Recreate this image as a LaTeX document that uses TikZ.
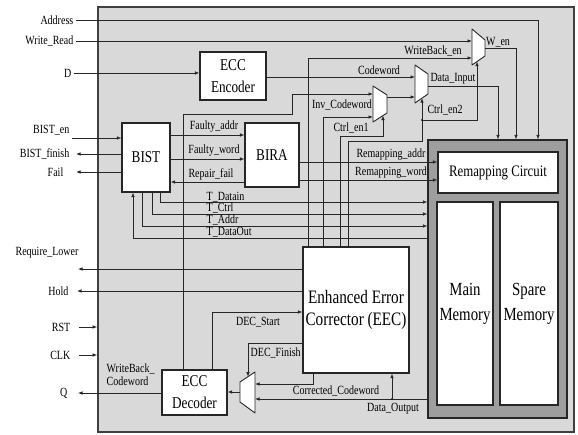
\documentclass[tikz,border=0pt]{standalone}
\usepackage{fontspec}
\setmainfont{Liberation Serif}[FakeStretch=0.8]
\usetikzlibrary{arrows.meta, calc}

\tikzset{
  blk/.style={draw=black!85, line width=1.1pt, fill=white, align=center, inner sep=1pt},
  lbl/.style={inner sep=0.5pt, font=\fontsize{12.5}{13}\selectfont},
  wire/.style={line width=0.7pt, draw=black!85},
  muxs/.style={draw=black!85, line width=0.9pt, fill=white, line join=round},
}

\begin{document}
\begin{tikzpicture}[x=1pt, y=-1pt, >={Latex[length=4.5pt, width=3.5pt]}]
    \useasboundingbox (0,0) rectangle (578,434);

    % === 1. CHIP FRAME ===
    \node[draw=black!75, line width=1.8pt, fill=black!15, inner sep=0pt,
          minimum width=476pt, minimum height=425pt] (frame) at (336,219.5) {};

    % === 2. MEMORY BLOCK ===
    \node[draw=black!85, line width=1.1pt, fill=black!38, inner sep=0pt,
          minimum width=139pt, minimum height=278pt] (mem) at (497.5,279) {};
    \node[blk, minimum width=120pt, minimum height=41pt, font=\fontsize{16}{18}\selectfont]
        (remap) at (498,172.5) {Remapping Circuit};
    \node[blk, minimum width=56pt, minimum height=203pt, font=\fontsize{18.5}{25}\selectfont]
        (main) at (465,303.5) {Main\\Memory};
    \node[blk, minimum width=58pt, minimum height=203pt, font=\fontsize{18.5}{25}\selectfont]
        (spare) at (529,303.5) {Spare\\Memory};

    % === 3. BLOCKS ===
    \node[blk, minimum width=66pt, minimum height=48pt, font=\fontsize{16.5}{22}\selectfont]
        (enc) at (233,76) {ECC\\Encoder};
    \node[blk, minimum width=48pt, minimum height=69pt, font=\fontsize{16.5}{20}\selectfont]
        (bist) at (146,157.5) {BIST};
    \node[blk, minimum width=54pt, minimum height=64pt, font=\fontsize{16.5}{20}\selectfont]
        (bira) at (272,155) {BIRA};
    \node[blk, minimum width=106pt, minimum height=126pt, font=\fontsize{19}{22}\selectfont]
        (eec) at (356,310) {Enhanced Error\\Corrector (EEC)};
    \node[blk, minimum width=65pt, minimum height=45pt, font=\fontsize{16.5}{22}\selectfont]
        (dec) at (194.5,392.5) {ECC\\Decoder};

    % === 4. MUXES (pins as coordinates) ===
    \draw[muxs] (472,29) -- (485,40) -- (485,56) -- (472,65) -- cycle;
    \coordinate (wbA) at (472,41);
    \coordinate (wbB) at (472,58);
    \coordinate (wbY) at (485,48.5);
    \coordinate (wbS) at (477,61.5);

    \draw[muxs] (415,65) -- (428,74) -- (428,94) -- (415,103) -- cycle;
    \coordinate (dmA) at (415,77);
    \coordinate (dmB) at (415,97);
    \coordinate (dmY) at (428,86);
    \coordinate (dmS) at (422,98.2);

    \draw[muxs] (373,86) -- (387,95) -- (387,113) -- (373,122) -- cycle;
    \coordinate (m1A) at (373,94);
    \coordinate (m1B) at (373,117);
    \coordinate (m1Y) at (387,97);
    \coordinate (m1S) at (383,115.6);

    \draw[muxs] (255,372) -- (240,382) -- (240,402) -- (255,413) -- cycle;
    \coordinate (dxA) at (255,384);
    \coordinate (dxB) at (255,399);
    \coordinate (dxY) at (240,392);
    \coordinate (dxS) at (248,376.7);

    % === 5. TOP INPUTS ===
    \node[lbl, anchor=east] (addr) at (74,20) {Address};
    \node[lbl, anchor=east] (wr) at (74,41) {Write\_Read};
    \node[lbl, anchor=east] (din) at (72,73) {D};
    \draw[wire, ->] ([xshift=2pt]addr.east) -| ([xshift=40.5pt]mem.north);
    \draw[wire, ->] ([xshift=2pt]wr.east) -- (wbA);
    \draw[wire, ->] ([xshift=2pt]din.east) -- (din.east -| enc.west);

    % === 6. WRITE PATH ===
    \draw[wire, ->] (enc.east |- dmA) -- (dmA);
    \node[lbl] (cwl) at (379,70) {Codeword};
    \draw[wire, ->] ([xshift=-48pt]eec.north) |- (wbB);
    \node[lbl] (wbel) at (433,51) {WriteBack\_en};
    \draw[wire, ->] (wbY) -| ([xshift=18.5pt]mem.north);
    \node[lbl] (wenl) at (498,42) {W\_en};
    \draw[wire, ->] (dmY) -| ([xshift=0.5pt]mem.north);
    \node[lbl] (dil) at (453,79) {Data\_Input};
    \draw[wire, ->] (m1Y) -- (dmB);
    \draw[wire, ->] ([xshift=-33pt]eec.north) |- (m1B);
    \node[lbl] (icl) at (342,105) {Inv\_Codeword};
    \coordinate (wbk) at (292,114);
    \draw[wire, ->] ([xshift=-11.5pt]dec.north) |- (wbk) |- (m1A);

    % === 7. MUX SELECTS ===
    \draw[wire, ->] ([xshift=-16pt]eec.north) -- ++(0,-110) -| (m1S);
    \node[lbl] (ce1l) at (351,128) {Ctrl\_en1};
    \draw[wire, ->] ([xshift=-8pt]eec.north) -- ++(0,-105) -| (dmS);
    \coordinate (c2j) at (422,120);
    \draw[wire, ->] (c2j) -| (wbS);
    \fill[black!85] (c2j) circle (1.2pt);
    \node[lbl] (ce2l) at (445,110) {Ctrl\_en2};

    % === 8. BIST PORTS ===
    \node[lbl, anchor=east] (benl) at (70,130) {BIST\_en};
    \node[lbl, anchor=east] (bfinl) at (70,154) {BIST\_finish};
    \node[lbl, anchor=east] (faill) at (64,172) {Fail};
    \coordinate (benin) at (72,138);
    \draw[wire, ->] (benin) -- (benin -| bist.west);
    \draw[wire, ->] (bist.west |- bfinl) -- ([xshift=6pt]bfinl.east);
    \draw[wire, ->] (bist.west |- faill) -- ([xshift=12pt]faill.east);

    % === 9. BIST <-> BIRA ===
    \coordinate (yfa) at (0,135);
    \coordinate (yfw) at (0,159);
    \coordinate (yrf) at (0,182);
    \draw[wire, ->] (bist.east |- yfa) -- (bira.west |- yfa);
    \draw[wire, ->] (bist.east |- yfw) -- (bira.west |- yfw);
    \draw[wire, ->] (bira.west |- yrf) -- (bist.east |- yrf);
    \node[lbl] (fal) at (214,127) {Faulty\_addr};
    \node[lbl] (fwl) at (214,151) {Faulty\_word};
    \node[lbl] (rfl) at (211,174) {Repair\_fail};

    % === 10. BIRA -> REMAPPING ===
    \coordinate (yra) at (0,162);
    \coordinate (yrw) at (0,180);
    \draw[wire, ->] (bira.east |- yra) -- (remap.west |- yra);
    \draw[wire, ->] (bira.east |- yrw) -- (remap.west |- yrw);
    \node[lbl] (ral) at (391,155) {Remapping\_addr};
    \node[lbl] (rwl) at (391,173) {Remapping\_word};

    % === 11. TEST BUS ===
    \coordinate (ytd) at (0,202);
    \coordinate (ytc) at (0,214);
    \coordinate (yta) at (0,226);
    \coordinate (yto) at (0,238);
    \draw[wire, ->] ([xshift=14pt]bist.south) |- (mem.west |- ytd);
    \draw[wire, ->] ([xshift=6pt]bist.south) |- (mem.west |- ytc);
    \draw[wire, ->] ([xshift=-4pt]bist.south) |- (mem.west |- yta);
    \draw[wire, ->] (mem.west |- yto) -| ([xshift=-13pt]bist.south);
    \node[lbl, anchor=west] (tdl) at (206,197) {T\_Datain};
    \node[lbl, anchor=west] (tcl) at (206,208) {T\_Ctrl};
    \node[lbl, anchor=west] (tal) at (206,220) {T\_Addr};
    \node[lbl, anchor=west] (tol) at (206,232) {T\_DataOut};

    % === 12. EEC STATUS OUTPUTS ===
    \node[lbl] (rll) at (47,253) {Require\_Lower};
    \coordinate (rlend) at (78,269);
    \draw[wire, ->] (eec.west |- rlend) -- (rlend);
    \node[lbl, anchor=east] (holdl) at (69,291) {Hold};
    \draw[wire, ->] (eec.west |- holdl) -- ([xshift=8pt]holdl.east);
    \node[lbl, anchor=east] (rstl) at (71,327) {RST};
    \node[lbl, anchor=east] (clkl) at (71,355) {CLK};
    \draw[wire, ->] ([xshift=8pt]rstl.east) -- (rstl.east -| frame.west);
    \draw[wire, ->] ([xshift=8pt]clkl.east) -- (clkl.east -| frame.west);

    % === 13. READ PATH ===
    \node[lbl, anchor=east] (ql) at (68,393) {Q};
    \draw[wire, ->] (dec.west |- ql) -- ([xshift=10pt]ql.east);
    \node[lbl, align=left, anchor=west] (wbcl) at (106,375) {WriteBack\_\\Codeword};
    \draw[wire, ->] (dxY) -- (dxY -| dec.east);
    \coordinate (yds) at (0,312);
    \draw[wire, ->] ([xshift=17.5pt]dec.north) |- (eec.west |- yds);
    \node[lbl] (dsl) at (258,322) {DEC\_Start};
    \coordinate (ydf) at (0,343);
    \draw[wire, ->] (eec.west |- ydf) -| (dxS);
    \node[lbl, anchor=west] (dfl) at (250,353) {DEC\_Finish};
    \draw[wire, ->] ([xshift=-43pt]eec.south) |- (dxA);
    \node[lbl] (ccl) at (336,391) {Corrected\_Codeword};
    \draw[wire, ->] (mem.west |- dxB) -- (dxB);
    \coordinate (doj) at (392,399);
    \draw[wire, ->] (doj) -- (doj |- eec.south);
    \fill[black!85] (doj) circle (1.2pt);
    \node[lbl] (dol) at (393,409) {Data\_Output};

\end{tikzpicture}
\end{document}
